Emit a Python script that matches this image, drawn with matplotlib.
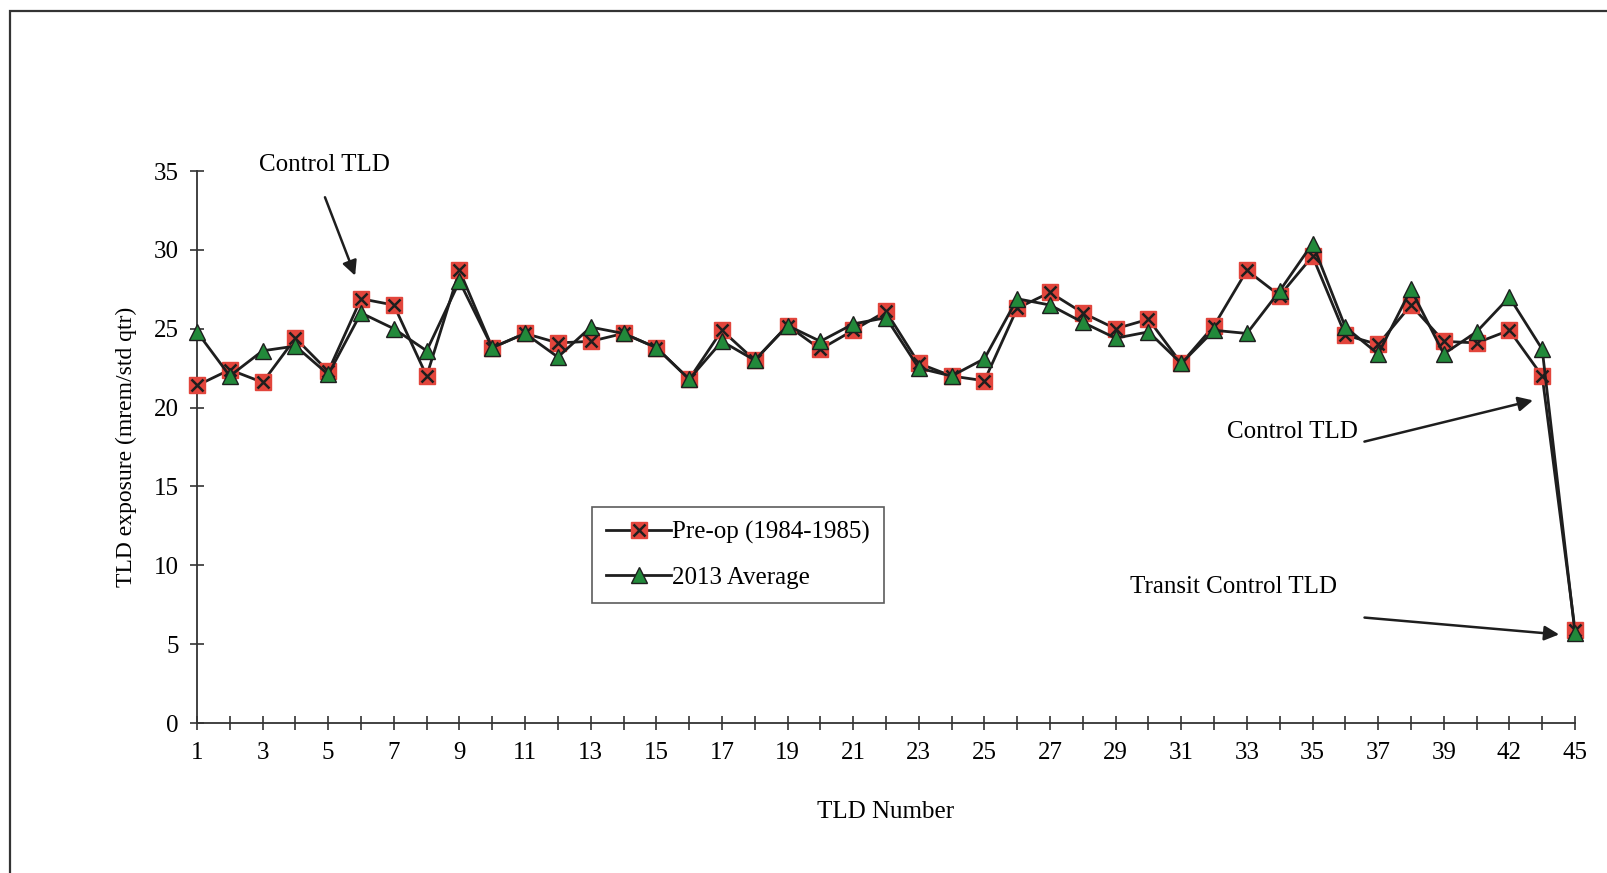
import numpy as np
import matplotlib
matplotlib.use("Agg")
import matplotlib.pyplot as plt
from matplotlib.patches import Rectangle

plt.rcParams['font.family'] = ['Liberation Serif', 'DejaVu Serif']

tld_numbers = list(range(1, 41)) + [42, 44, 45]

pre_op = [21.4, 22.4, 21.6, 24.4, 22.3, 26.9, 26.5, 22.0, 28.7, 23.8,
          24.7, 24.1, 24.2, 24.7, 23.8, 21.8, 24.9, 23.0, 25.2, 23.7,
          24.9, 26.1, 22.8, 22.0, 21.7, 26.3, 27.3, 26.0, 25.0, 25.6,
          22.8, 25.2, 28.7, 27.1, 29.6, 24.6, 24.0, 26.5, 24.2, 24.1,
          24.9, 22.0, 5.9]

avg_2013 = [24.8, 22.0, 23.6, 23.9, 22.1, 26.0, 25.0, 23.6, 28.0, 23.8,
            24.7, 23.2, 25.1, 24.7, 23.8, 21.8, 24.2, 23.0, 25.2, 24.2,
            25.3, 25.7, 22.5, 22.0, 23.1, 26.9, 26.5, 25.4, 24.4, 24.8,
            22.8, 24.9, 24.7, 27.4, 30.4, 25.1, 23.4, 27.5, 23.4, 24.8,
            27.0, 23.7, 5.7]

x = np.arange(len(tld_numbers))

fig = plt.figure(figsize=(16.08, 8.73), dpi=100)
ax = fig.add_axes([197/1608, 1 - 723/873, 1378/1608, 552/873])

# outer chart frame
fig.patches.append(Rectangle((10/1608, -0.05), 1.2, 1.05 - 11/873,
                             transform=fig.transFigure, fill=False,
                             edgecolor='#333333', lw=1.6))

red = '#e2453c'
green = '#22893a'
line_c = '#1e1e1e'

l1, = ax.plot(x, pre_op, color=line_c, lw=2.0, marker='s', ms=11,
              mfc=red, mec=red, zorder=3, clip_on=False)
x1, = ax.plot(x, pre_op, ls='none', marker='x', ms=9, mew=1.8,
              color=line_c, zorder=4, clip_on=False)
l2, = ax.plot(x, avg_2013, color=line_c, lw=2.0, marker='^', ms=11,
              mfc=green, mec=line_c, mew=1.0, zorder=5, clip_on=False)

ax.set_xlim(0, len(x) - 1)
ax.set_ylim(0, 35)
ax.set_yticks(np.arange(0, 36, 5))
ax.set_xticks(x)
ax.set_xticklabels([str(n) if i % 2 == 0 else '' for i, n in enumerate(tld_numbers)])

for s in ['top', 'right']:
    ax.spines[s].set_visible(False)
for s in ['left', 'bottom']:
    ax.spines[s].set_color('#333333')
    ax.spines[s].set_linewidth(1.3)

ax.tick_params(axis='both', direction='inout', length=10, width=1.2,
               color='#333333', labelsize=18)
ax.tick_params(axis='x', pad=9)
ax.tick_params(axis='y', pad=8)

ax.set_ylabel('TLD exposure (mrem/std qtr)', fontsize=17, labelpad=12)
ax.set_xlabel('TLD Number', fontsize=18, labelpad=26)

arrow = dict(arrowstyle='-|>', color=line_c, lw=1.8, mutation_scale=22)

# annotations
ax.text(3.87, 35.4, 'Control TLD', fontsize=18, ha='center', va='center',
        clip_on=False)
ax.annotate('', xy=(4.85, 28.2), xytext=(3.87, 33.5),
            arrowprops=arrow, annotation_clip=False)

ax.text(33.4, 18.45, 'Control TLD', fontsize=18, ha='center', va='center')
ax.annotate('', xy=(40.8, 20.5), xytext=(35.5, 17.8), arrowprops=arrow)

ax.text(31.6, 8.6, 'Transit Control TLD', fontsize=18, ha='center', va='center')
ax.annotate('', xy=(41.6, 5.6), xytext=(35.5, 6.7), arrowprops=arrow)

leg = ax.legend([(l1, x1), l2], ['Pre-op (1984-1985)', '2013 Average'],
                loc='upper left', bbox_to_anchor=(0.287, 0.391),
                fontsize=18, frameon=True, fancybox=False, handlelength=2.6,
                handletextpad=0.05, borderpad=0.55, labelspacing=0.9,
                borderaxespad=0)
leg.get_frame().set_edgecolor('#333333')
leg.get_frame().set_linewidth(1.2)

fig.savefig('out.png', dpi=100)
